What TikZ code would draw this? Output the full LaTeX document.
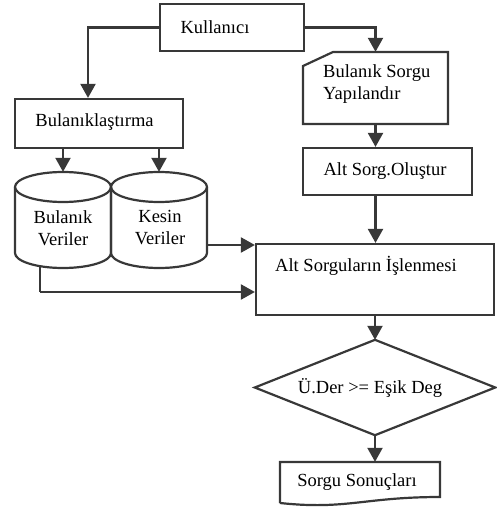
\documentclass[tikz,border=0pt]{standalone}
\usepackage{fontspec}
\setmainfont{Liberation Serif}
\usetikzlibrary{arrows.meta,calc}
\definecolor{ln}{HTML}{383838}
\begin{document}
\begin{tikzpicture}[x=1pt,y=-1pt,
  every node/.style={font=\fontsize{18.5}{22}\selectfont, inner sep=0pt},
  box/.style={draw=ln, line width=2.2pt, minimum width=#1},
  shapebox/.style={draw=none},
  txt/.style={text=black, align=center},
  line/.style={draw=ln, line width=2.2pt},
  arr/.style={line, -{Triangle[width=15pt,length=14pt]}},
  ]
\useasboundingbox (0,0) rectangle (496,510);
% rectangles
\node[box=144pt, minimum height=47pt] (kul) at (232,27.5) {};
\node[box=168pt, minimum height=49pt] (bul) at (99,123.5) {};
\node[box=169pt, minimum height=47pt] (alt) at (387.5,171.5) {};
\node[box=238pt, minimum height=71pt] (isl) at (375,279.5) {};
% card
\node[shapebox, minimum width=145pt, minimum height=72pt] (card) at (375.5,88) {};
\draw[line] (303,66) -- (333,52) -- (448,52) -- (448,124) -- (303,124) -- cycle;
% diamond
\node[shapebox, minimum width=240pt, minimum height=95pt] (dia) at (375,387.5) {};
\draw[line] (dia.west) -- (dia.north) -- (dia.east) -- (dia.south) -- cycle;
% document
\node[shapebox, minimum width=160pt, minimum height=40pt] (doc) at (360,482) {};
\draw[line] (280,503) -- (280,462) -- (440,462) -- (440,497)
  .. controls (385,497) and (360,504) .. (325,505)
  .. controls (305,505.5) and (290,504) .. (280,503);
% cylinders
\node[shapebox, minimum width=96pt, minimum height=96pt] (cyl1) at (63,220) {};
\node[shapebox, minimum width=96pt, minimum height=96pt] (cyl2) at (159,220) {};
\draw[line] (15,187) -- (15,253) arc[start angle=180,end angle=360,x radius=48pt,y radius=15pt] -- (111,187);
\draw[line] (63,187) ellipse [x radius=48pt, y radius=15pt];
\draw[line] (111,187) -- (111,253) arc[start angle=180,end angle=360,x radius=48pt,y radius=15pt] -- (207,187);
\draw[line] (159,187) ellipse [x radius=48pt, y radius=15pt];
% texts
\node[txt] (tkul) at (215,27) {Kullanıcı};
\node[txt] (tbul) at (94.5,122) {Bulanıklaştırma};
\node[txt, align=left, anchor=west] (tcard) at (323,84) {Bulanık Sorgu\\Yapılandır};
\node[txt] (talt) at (385,171) {Alt Sorg.Oluştur};
\node[txt] (tisl) at (366,266) {Alt Sorguların İşlenmesi};
\node[txt] (tdia) at (370,388) {Ü.Der >= Eşik Deg};
\node[txt] (tdoc) at (357,482) {Sorgu Sonuçları};
\node[txt] (tcyl1) at (63,228) {Bulanık\\Veriler};
\node[txt] (tcyl2) at (160,228) {Kesin\\Veriler};
% connectors
\draw[arr] (kul.west) -| ([xshift=-11pt]bul.north);
\draw[arr] (kul.east) -| (card.north);
\draw[arr] (card.south) -- (card.south |- alt.north);
\draw[arr] (card.south |- alt.south) -- (card.south |- isl.north);
\draw[arr] (isl.south) -- (dia.north);
\draw[arr] (dia.south) -- (dia.south |- doc.north);
\draw[arr] (bul.south -| cyl1.north) -- (cyl1.north);
\draw[arr] (bul.south -| cyl2.north) -- (cyl2.north);
\coordinate (k1) at ($(cyl2.east)+(0,25)$);
\draw[arr] (k1) -- (k1 -| isl.west);
\coordinate (b1) at ($(cyl1.south)+(-23,-3)$);
\draw[line] (b1) -- (40,292);
\draw[arr] (40,292) -- (isl.west |- 0,292);
\end{tikzpicture}
\end{document}
